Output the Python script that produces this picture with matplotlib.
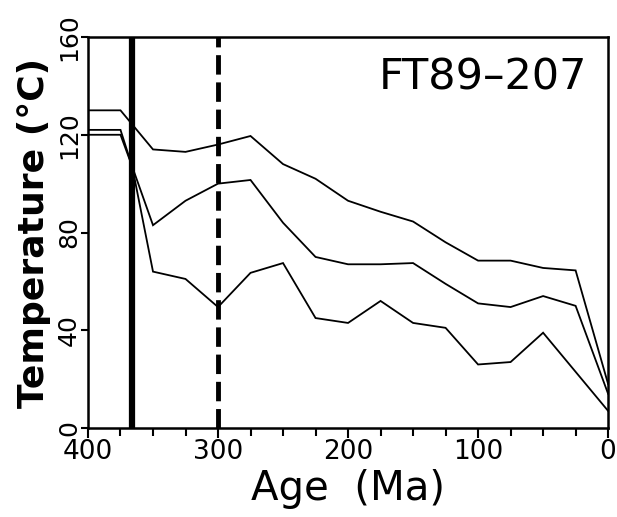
import matplotlib
matplotlib.use("Agg")
import matplotlib.pyplot as plt
from matplotlib.ticker import MultipleLocator, FixedLocator

# Thermal history envelope for sample FT89-207 (age in Ma, temperature in °C)
age_upper = [400, 375, 350, 325, 300, 275, 250, 225, 200, 175, 150, 125, 100, 75, 50, 25, 0]
temp_upper = [130, 130, 114, 113, 116, 119.5, 108, 102, 93, 88.5, 84.5, 76, 68.5, 68.5, 65.5, 64.5, 18]

age_mid = [400, 375, 366, 350, 325, 300, 275, 250, 225, 200, 175, 150, 125, 100, 75, 50, 25, 0]
temp_mid = [122, 122, 107, 83, 93, 100, 101.5, 84, 70, 67, 67, 67.5, 59, 51, 49.5, 54, 50, 14]

age_lower = [400, 375, 366, 350, 325, 300, 275, 250, 225, 200, 175, 150, 125, 100, 75, 50, 25, 0]
temp_lower = [120, 120, 107, 64, 61, 49.5, 63.5, 67.5, 45, 43, 52, 43, 41, 26, 27, 39, 23, 7]

event_solid = 366
event_dashed = 300

x_major = [400, 300, 200, 100, 0]
y_major = [0, 40, 80, 120, 160]
sample_name = "FT89–207"

fig = plt.figure(figsize=(6.17, 5.17), dpi=100)
ax = fig.add_axes([0.1426, 0.1721, 0.8430, 0.7563])

for a, t in [(age_upper, temp_upper), (age_mid, temp_mid), (age_lower, temp_lower)]:
    ax.plot(a, t, color="black", lw=1.3, solid_joinstyle="miter")

ax.axvline(event_solid, color="black", lw=4.5)
ax.axvline(event_dashed, color="black", lw=3.5, dashes=(4, 1.6))

ax.set_xlim(400, 0)
ax.set_ylim(0, 160)

ax.xaxis.set_major_locator(FixedLocator(x_major))
ax.xaxis.set_minor_locator(MultipleLocator(25))
ax.yaxis.set_major_locator(FixedLocator(y_major))

ax.tick_params(axis="both", which="both", direction="out", width=1.5,
               top=False, right=False)
ax.tick_params(axis="x", which="major", length=7, labelsize=19, pad=1)
ax.tick_params(axis="x", which="minor", length=6)
ax.tick_params(axis="y", which="major", length=5, labelsize=18, pad=0)
for lbl in ax.get_yticklabels():
    lbl.set_rotation(90)
    lbl.set_va("center")

for s in ax.spines.values():
    s.set_linewidth(1.8)

ax.set_xlabel("Age  (Ma)", fontsize=29, labelpad=3)
ax.set_ylabel("Temperature (°C)", fontsize=26, fontweight="bold", labelpad=4)

ax.text(0.96, 0.95, sample_name, transform=ax.transAxes, ha="right", va="top",
        fontsize=31)

fig.savefig("out.png", dpi=100)
